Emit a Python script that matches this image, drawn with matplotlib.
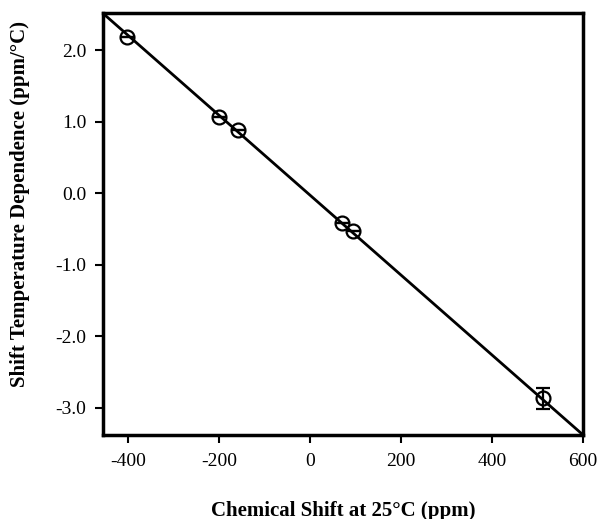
import matplotlib.pyplot as plt
import numpy as np

# chemical shift (ppm) vs temperature dependence (ppm/C)
shift = [-403, -199, -159, 70, 94, 513]
temp_dep = [2.19, 1.07, 0.88, -0.42, -0.53, -2.87]
temp_err = [0, 0, 0, 0, 0, 0.15]

# linear fit
fit_slope = -0.00559
fit_intercept = -0.025

xticks = [-400, -200, 0, 200, 400, 600]
xtick_labels = ['-400', '-200', '0', '200', '400', '600']
yticks = [2.0, 1.0, 0.0, -1.0, -2.0, -3.0]
ytick_labels = ['2.0', '1.0', '0.0', '-1.0', '-2.0', '-3.0']

plt.rcParams['font.family'] = ['Liberation Serif', 'DejaVu Serif']

fig = plt.figure(figsize=(5.97, 5.19), dpi=100)
ax = fig.add_axes([0.1725, 0.162, 0.804, 0.8125])

xlo, xhi = -455, 600
xs = np.array([xlo, xhi])
ax.plot(xs, fit_intercept + fit_slope * xs, color='black', lw=2, zorder=2)

ax.errorbar(shift, temp_dep, yerr=temp_err, fmt='o', mfc='none', mec='black',
            mew=1.6, ms=10, ecolor='black', elinewidth=1.6, capsize=5,
            capthick=1.6, zorder=3)

ax.set_xlim(xlo, xhi)
ax.set_ylim(-3.38, 2.52)
ax.set_xticks(xticks)
ax.set_xticklabels(xtick_labels)
ax.set_yticks(yticks)
ax.set_yticklabels(ytick_labels)

for s in ax.spines.values():
    s.set_linewidth(2.5)
ax.tick_params(direction='out', length=6, width=1.5, labelsize=14)
ax.tick_params(axis='x', pad=7)
ax.tick_params(axis='y', pad=6)

ax.set_xlabel('Chemical Shift at 25\u00b0C (ppm)', fontsize=15,
              fontweight='bold', labelpad=22)
ax.set_ylabel('Shift Temperature Dependence (ppm/\u00b0C)', fontsize=15,
              fontweight='bold', labelpad=10)
ax.yaxis.set_label_coords(-0.152, 0.547)

fig.savefig('out.png', dpi=100)
